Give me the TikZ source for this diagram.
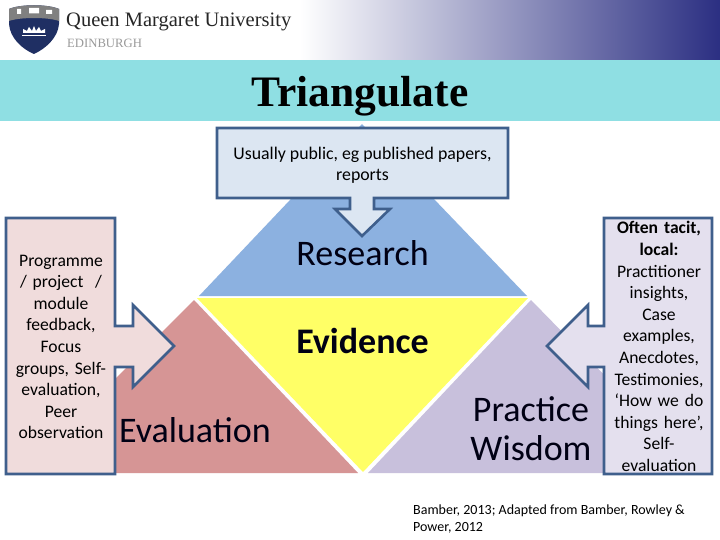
\documentclass[tikz,border=0pt]{standalone}
\usepackage{fontspec}
\setmainfont{Carlito}
\newfontfamily\serifface{Liberation Serif}
\usetikzlibrary{calc}
\definecolor{band}{HTML}{8FDFE3}
\definecolor{edgeblue}{HTML}{3F5F8C}
\definecolor{resblue}{HTML}{8CB1E0}
\definecolor{evalred}{HTML}{D69595}
\definecolor{pracpurple}{HTML}{C8C0DC}
\definecolor{evyellow}{HTML}{FFFF66}
\definecolor{boxblue}{HTML}{DCE6F2}
\definecolor{boxpink}{HTML}{F0DCDC}
\definecolor{boxlilac}{HTML}{E4E0EE}
\definecolor{navy}{HTML}{1F2F63}
\definecolor{headend}{HTML}{2B2F82}
\tikzset{
  callout/.style={draw=edgeblue,line width=2.6pt,line join=miter},
  lbl/.style={align=center,inner sep=0pt,text=black},
  small/.style={lbl,font=\fontsize{17.6}{21.6}\selectfont,text width=106pt},
  big/.style={lbl,text=black!92!blue,font=\fontsize{36}{39}\selectfont},
}
\begin{document}
\begin{tikzpicture}[x=1pt,y=-1pt]
\useasboundingbox (0,0) rectangle (720,540);
% header
\fill[white] (0,0) rectangle (720,540);
\shade[left color=white,right color=headend] (300,0) rectangle (720,60);
\fill[band] (0,60) rectangle (720,121);
% logo
\fill[navy] (9,9) .. controls (20,4) and (48,4) .. (59,9) -- (59,24) .. controls (58,38) and (45,49) .. (34,54) .. controls (22,49) and (10,38) .. (9,24) -- cycle;
\fill[black!50] (9,9) .. controls (20,4) and (48,4) .. (59,9) -- (59,21) .. controls (48,17) and (20,17) .. (9,21) -- cycle;
\fill[white] (17,9) rectangle (21,14) (29,8) rectangle (39,13.5) (46,10) rectangle (52,14);
\fill[white] (23,29) -- (23,33) -- (45,33) -- (45,29) -- (41,31) -- (39,27) -- (36,31) -- (34,26) -- (32,31) -- (29,27) -- (27,31) -- cycle;
\fill[white] (22,35) rectangle (46,36.5);
\node[anchor=west,inner sep=0pt,font=\serifface\fontsize{20.5}{21}\selectfont,text=black!85] (uni) at (66,22) {Queen Margaret University};
\node[anchor=west,inner sep=0pt,font=\serifface\fontsize{12.7}{12}\selectfont,text=black!40] (edi) at (67,43) {EDINBURGH};
\node[inner sep=0pt,font=\serifface\bfseries\fontsize{43.5}{44}\selectfont] (title) at (360,96) {Triangulate};
% triangles
\fill[resblue] (362,124) -- (527,296) -- (199,296) -- cycle;
\fill[evyellow] (197,298) -- (528,298) -- (363,472) -- cycle;
\fill[evalred] (194,300) -- (358,473) -- (21,473) -- cycle;
\fill[pracpurple] (531,300) -- (700,473) -- (368,473) -- cycle;
% callouts
\draw[callout,fill=boxblue] (217,128) -- (508,128) -- (508,198) -- (374,198) -- (374,209) -- (390,209) -- (362,236) -- (335,209) -- (350,209) -- (350,198) -- (217,198) -- cycle;
\draw[callout,fill=boxpink] (6,218) -- (115,218) -- (115,326) -- (133,326) -- (133,305) -- (174,346) -- (133,387) -- (133,367) -- (115,367) -- (115,474) -- (6,474) -- cycle;
\draw[callout,fill=boxlilac] (712,218) -- (604,218) -- (604,326) -- (588,326) -- (588,305) -- (547,346) -- (588,387) -- (588,367) -- (604,367) -- (604,474) -- (712,474) -- cycle;
% texts
\node[lbl,font=\fontsize{17.8}{21}\selectfont] (pub) at (362.5,165) {Usually public, eg published papers,\\reports};
\node[big] (res) at (362.5,253) {Research};
\node[big,font=\bfseries\fontsize{36}{39}\selectfont] (evi) at (362.5,341.5) {Evidence};
\node[big] (eva) at (195,430) {Evaluation};
\node[big] (pra) at (531,429) {Practice\\Wisdom};
\node[small] (prog) at (61,347) {Programme\\/ project~ /\\module\\feedback,\\Focus\\groups, Self-\\evaluation,\\Peer\\observation};
\node[small] (tac) at (659,346.5) {\textbf{Often tacit,}\\\textbf{local:}\\Practitioner\\insights,\\Case\\examples,\\Anecdotes,\\Testimonies,\\‘How we do\\things here’,\\Self-\\evaluation};
\node[anchor=north west,align=left,inner sep=0pt,font=\fontsize{14}{17}\selectfont] (cite) at (413,505) {Bamber, 2013; Adapted from Bamber, Rowley \&\\Power, 2012};
\end{tikzpicture}
\end{document}
